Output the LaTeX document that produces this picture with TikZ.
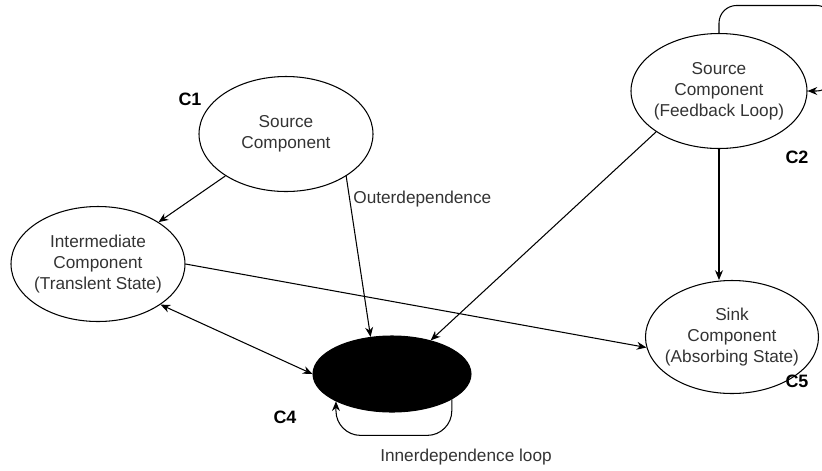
\documentclass[tikz,border=0pt]{standalone}
\usepackage{fontspec}
\setmainfont{Liberation Sans}
\usetikzlibrary{arrows.meta, shapes.geometric}

\begin{document}
\begin{tikzpicture}[>={Stealth[length=5.5pt, width=4.5pt]}, line width=0.6pt,
  font=\fontsize{9.8}{12}\selectfont,
  comp/.style={draw, ellipse, minimum width=3.48cm, minimum height=2.3cm,
    inner xsep=-5pt, inner ysep=0pt, align=center, text=black!80},
  tag/.style={font=\fontsize{10.2}{12}\selectfont\bfseries}]

\useasboundingbox (0,0) rectangle (16.44,-9.4);

% Components
\node[comp] (c1) at (5.72,-2.68) {Source\\Component};
\node[comp] (inter) at (1.96,-5.28) {Intermediate\\Component\\(Translent State)};
\node[comp, minimum width=3.52cm] (c2) at (14.38,-1.82) {Source\\Component\\(Feedback Loop)};
\node[comp, minimum width=3.46cm, minimum height=2.26cm] (c5) at (14.64,-6.74) {Sink\\Component\\(Absorbing State)};
\node[draw, ellipse, fill=black, minimum width=3.16cm, minimum height=1.52cm] (c4) at (7.84,-7.48) {};

% Component tags
\node[tag] (t1) at (3.8,-1.98) {C1};
\node[tag] (t2) at (15.94,-3.14) {C2};
\node[tag] (t4) at (5.7,-8.34) {C4};
\node[tag] (t5) at (15.94,-7.62) {C5};

% Dependencies
\draw[->] (c1) -- (inter);
\draw[->] (c1.-35) -- (c4.120);
\draw[->] (c2.213) -- (c4.41);
\draw[->] (c2.south) -- (c2.south |- c5.north);
\draw[->] (inter.east) -- (c5.187);
\draw[<->] (inter.-33) -- (c4.west);

% Loops
\draw[->, rounded corners=10pt] (c2.north) -- ++(0,0.55) -- ++(2.3,0) |- (c2.east);
\draw[->, rounded corners=14pt] (c4.-23) -- ++(0,-0.72) -| (c4.206);

\node[anchor=west, text=black!80] (outer) at (6.94,-3.98) {Outerdependence};
\node[text=black!80] (inner) at (9.32,-9.14) {Innerdependence loop};

\end{tikzpicture}
\end{document}
